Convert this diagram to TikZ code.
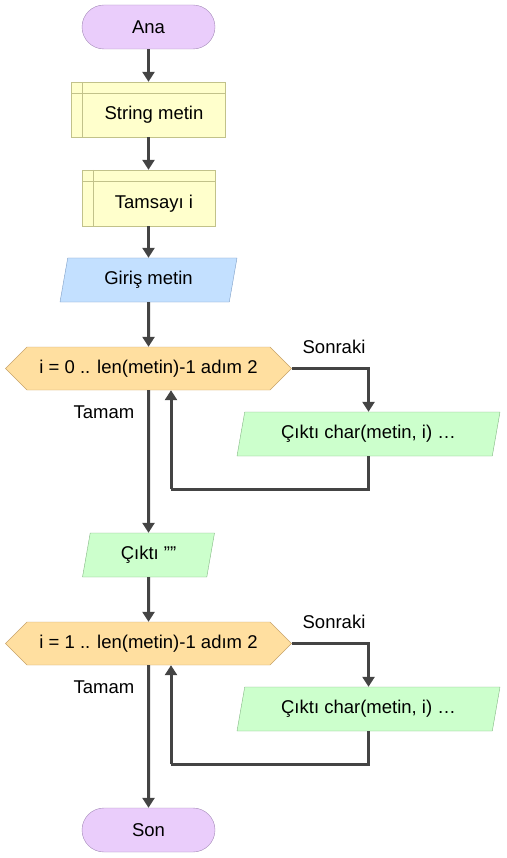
\documentclass[tikz,border=0pt]{standalone}
\usepackage{fontspec}
\setmainfont{Liberation Sans}
\usetikzlibrary{arrows.meta,shapes.geometric,shapes.symbols}
\definecolor{termfill}{HTML}{EACDFB}
\definecolor{termline}{HTML}{A48AB8}
\definecolor{declfill}{HTML}{FFFFCC}
\definecolor{declline}{HTML}{C2C28A}
\definecolor{infill}{HTML}{C3E0FF}
\definecolor{inline}{HTML}{7E9EC6}
\definecolor{loopfill}{HTML}{FFDFA0}
\definecolor{loopline}{HTML}{C8A36A}
\definecolor{outfill}{HTML}{CCFFCC}
\definecolor{outline}{HTML}{82B682}
\definecolor{flowgray}{HTML}{444444}
\tikzset{
  flowtext/.style={font=\fontsize{18.5}{22}\selectfont},
  terminal/.style={flowtext, draw=termline, fill=termfill, rounded corners=22pt,
    minimum width=133pt, minimum height=44pt, inner sep=0pt},
  declbox/.style={draw=declline, fill=declfill, minimum height=55pt, inner sep=0pt},
  iobox/.style={flowtext, trapezium, trapezium left angle=66, trapezium right angle=114,
    trapezium stretches body, minimum height=44pt, inner sep=0pt},
  loopbox/.style={flowtext, signal, signal to=west and east, signal pointer angle=90,
    draw=loopline, fill=loopfill, minimum width=286pt, minimum height=43pt, inner sep=0pt},
  flow/.style={draw=flowgray, line width=3pt, -{Triangle[length=10pt,width=12pt]}},
  flowline/.style={draw=flowgray, line width=3pt},
}
\begin{document}
\begin{tikzpicture}[x=1pt,y=-1pt]
\useasboundingbox (0,0) rectangle (506,858);
% terminal Ana
\node[terminal] (ana) at (148.5,27) {Ana};
% declarations
\node[declbox, minimum width=154pt,
  label={[flowtext, xshift=5.5pt, yshift=-5.5pt]center:String metin}] (str) at (148.5,109.5) {};
\draw[declline] ([xshift=11pt]str.north west) -- ([xshift=11pt]str.south west);
\draw[declline] ([yshift=-11pt]str.north west) -- ([yshift=-11pt]str.north east);
\node[declbox, minimum width=133pt, minimum height=56pt,
  label={[flowtext, xshift=5.5pt, yshift=-5.5pt]center:Tamsayı i}] (tam) at (148.5,198) {};
\draw[declline] ([xshift=11pt]tam.north west) -- ([xshift=11pt]tam.south west);
\draw[declline] ([yshift=-11pt]tam.north west) -- ([yshift=-11pt]tam.north east);
% input
\node[iobox, draw=inline, fill=infill, minimum width=177pt] (gir) at (148.5,280) {Giriş metin};
% first loop
\node[loopbox] (loopA) at (148.5,368.5) {i = 0 .. len(metin)-1 adım 2};
\node[iobox, draw=outline, fill=outfill, minimum width=263pt] (outA) at (368.5,434) {Çıktı char(metin, i) …};
\node[flowtext] (nextA) at (334,347) {Sonraki};
\node[flowtext] (doneA) at (104,412) {Tamam};
\coordinate (backA) at (171,489);
% empty output
\node[iobox, draw=outline, fill=outfill, minimum width=132pt] (outE) at (148.5,555) {Çıktı \symbol{34}\symbol{34}};
% second loop
\node[loopbox] (loopB) at (148.5,643.5) {i = 1 .. len(metin)-1 adım 2};
\node[iobox, draw=outline, fill=outfill, minimum width=263pt] (outB) at (368.5,709) {Çıktı char(metin, i) …};
\node[flowtext] (nextB) at (334,622) {Sonraki};
\node[flowtext] (doneB) at (104,687) {Tamam};
\coordinate (backB) at (171,764);
% terminal Son
\node[terminal] (son) at (148.5,830) {Son};
% connectors
\draw[flow] (ana) -- (str);
\draw[flow] (str) -- (tam);
\draw[flow] (tam) -- (gir);
\draw[flow] (gir) -- (loopA);
\draw[flow] (loopA.east) -| (outA.north);
\draw[flowline] (outA.south) |- (backA);
\draw[flow] (backA) -- (backA |- loopA.south);
\draw[flow] (loopA) -- (outE);
\draw[flow] (outE) -- (loopB);
\draw[flow] (loopB.east) -| (outB.north);
\draw[flowline] (outB.south) |- (backB);
\draw[flow] (backB) -- (backB |- loopB.south);
\draw[flow] (loopB) -- (son);
\end{tikzpicture}
\end{document}
